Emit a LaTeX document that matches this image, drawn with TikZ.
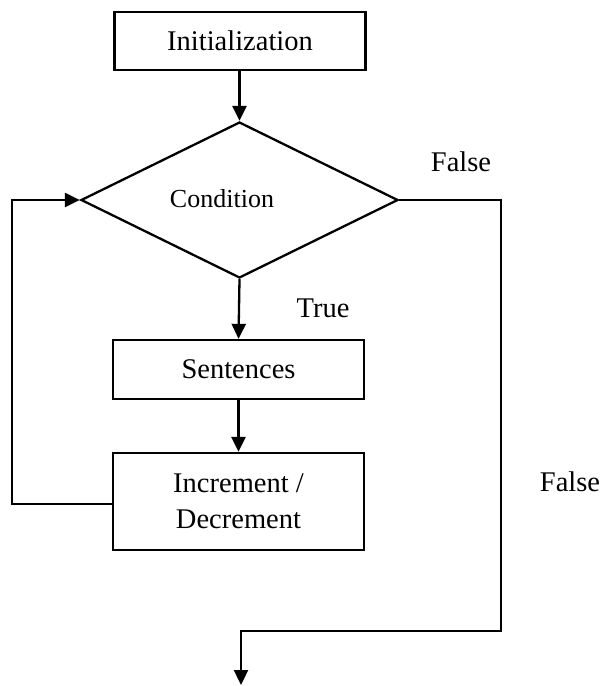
\documentclass[tikz,border=0pt]{standalone}
\usepackage{fontspec}
\setmainfont{Liberation Serif}
\usetikzlibrary{shapes.geometric,arrows.meta}

\begin{document}
\begin{tikzpicture}[x=1pt,y=-1pt,
  line width=2.3pt,
  every node/.style={font=\fontsize{28.5}{36}\selectfont},
  box/.style={draw, rectangle, inner sep=0pt, minimum width=251pt},
  decision/.style={draw, diamond, inner sep=0pt, minimum width=317pt, minimum height=156pt},
  tag/.style={inner sep=0pt},
  flow/.style={-{Triangle[length=15pt,width=14pt]}}
]
\useasboundingbox (0,0) rectangle (602,686);

% blocks of the loop
\node[box, minimum height=58pt] (init) at (240,41) {Initialization};
\node[decision] (cond) at (239.5,200) {};
\node[tag, font=\fontsize{26}{30}\selectfont] (condtext) at (222,199) {Condition};
\node[box, minimum height=59pt] (sent) at (238.5,369.5) {Sentences};
\node[box, minimum height=97pt, align=center] (incr) at (238.5,501.5) {Increment /\\Decrement};

% branch labels
\node[tag] (falseA) at (461,162) {False};
\node[tag] (trueA) at (323,308) {True};
\node[tag] (falseB) at (570,482) {False};

% corners of the exit path
\coordinate (fr) at (501,631);
\coordinate (fl) at (241,631);
\coordinate (exit) at (241,685);

% straight-through flow
\draw[flow] (init.south -| cond.north) -- (cond.north);
\draw[flow] (cond.south) -- (sent.north);
\draw[flow] (sent.south) -- (incr.north);

% back edge to the condition
\draw[flow] (incr.west |- 0,504) -- ++(-100,0) |- (cond.west);

% exit when the condition fails
\draw[flow] (cond.east) -| (fr) -- (fl) -- (exit);
\end{tikzpicture}
\end{document}
